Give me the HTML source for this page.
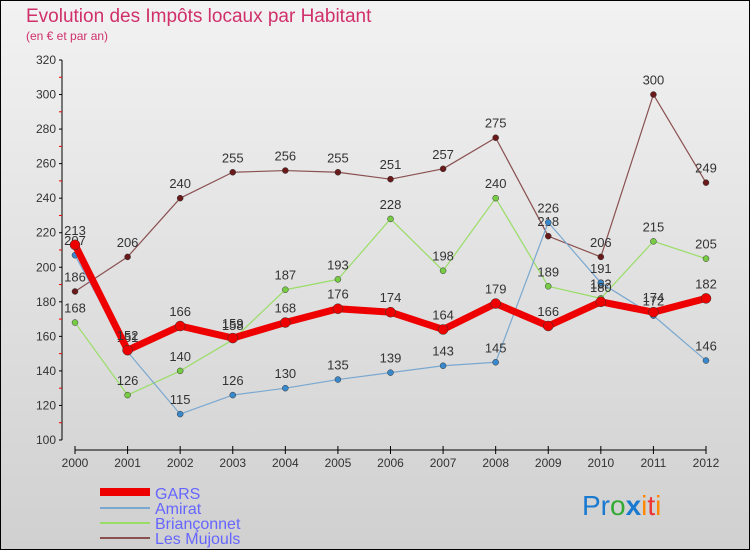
<!DOCTYPE html>
<html><head><meta charset="utf-8"><style>
body{margin:0;width:750px;height:550px;overflow:hidden;font-family:"Liberation Sans",sans-serif}
svg text{font-family:"Liberation Sans",sans-serif}
</style></head><body>
<svg id="c" width="750" height="550" xmlns="http://www.w3.org/2000/svg">
<defs><linearGradient id="bg" x1="0" y1="0" x2="0" y2="1"><stop offset="0" stop-color="#f2f2f2"/><stop offset="1" stop-color="#d0d0d0"/></linearGradient></defs>
<rect x="0.5" y="0.5" width="749" height="549" fill="url(#bg)" stroke="#000"/>
<text x="26" y="22" font-size="19" fill="#d0306a">Evolution des Impôts locaux par Habitant</text>
<text x="26" y="40" font-size="12" fill="#d0306a">(en € et par an)</text>
<g id="axes"></g><g id="series"></g>
<g>
<rect x="100" y="488" width="50" height="8" fill="#e00"/>
<text x="155" y="499" font-size="16" fill="#6666ff">GARS</text>
<line x1="100" y1="508" x2="150" y2="508" stroke="#7aa8d0" stroke-width="2"/>
<text x="155" y="514" font-size="16" fill="#6666ff">Amirat</text>
<line x1="100" y1="523" x2="150" y2="523" stroke="#99dd66" stroke-width="2"/>
<text x="155" y="529" font-size="16" fill="#6666ff">Briançonnet</text>
<line x1="100" y1="538" x2="150" y2="538" stroke="#8a5050" stroke-width="2"/>
<text x="155" y="544" font-size="16" fill="#6666ff">Les Mujouls</text>
</g>
<text x="582" y="515" font-size="28"><tspan fill="#1a7ad0">Pr</tspan><tspan fill="#3a3">o</tspan><tspan fill="#1a7ad0" font-weight="bold">x</tspan><tspan fill="#f80">i</tspan><tspan fill="#e33">t</tspan><tspan fill="#f80">i</tspan></text>
</svg>
<script>
const years=["2000","2001","2002","2003","2004","2005","2006","2007","2008","2009","2010","2011","2012"];
const yTicks=[100,120,140,160,180,200,220,240,260,280,300,320];
const gars=[213,152,166,159,168,176,174,164,179,166,180,174,182];
const amirat=[207,151,115,126,130,135,139,143,145,226,191,172,146];
const brianconnet=[168,126,140,158,187,193,228,198,240,189,182,215,205];
const mujouls=[186,206,240,255,256,255,251,257,275,218,206,300,249];
const NS="http://www.w3.org/2000/svg";
const X=i=>75+i*(706-75)/12, Y=v=>440-(v-100)*380/220;
function mk(t,a,p){const e=document.createElementNS(NS,t);for(const k in a)e.setAttribute(k,a[k]);p.appendChild(e);return e;}
const ax=document.getElementById('axes');
mk('line',{x1:62,y1:60,x2:62,y2:440,stroke:'#000'},ax);
mk('line',{x1:75,y1:450,x2:706,y2:450,stroke:'#000'},ax);
yTicks.forEach(v=>{const t=mk('text',{x:56,y:Y(v)+4,'font-size':12,'text-anchor':'end',fill:'#333'},ax);t.textContent=v;

mk('line',{x1:59,y1:Y(v),x2:62,y2:Y(v),stroke:'#000'},ax);
if(v<320) mk('line',{x1:59,y1:Y(v+10),x2:62,y2:Y(v+10),stroke:'#e00'},ax);});
years.forEach((y,i)=>{mk('line',{x1:X(i),y1:446,x2:X(i),y2:454,stroke:'#000'},ax);
const t=mk('text',{x:X(i),y:467,'font-size':12,'text-anchor':'middle',fill:'#333'},ax);t.textContent=y;
});
const sg=document.getElementById('series');
function draw(name,vals,col,w,r,dot){const g=mk('g',{},sg);

mk('polyline',{points:vals.map((v,i)=>X(i)+','+Y(v)).join(' '),fill:'none',stroke:col,'stroke-width':w,'stroke-linejoin':'round'},g);
vals.forEach((v,i)=>{const c=mk('circle',{cx:X(i),cy:Y(v),r:r,fill:dot,stroke:'#333','stroke-width':0.5},g);

const t=mk('text',{x:X(i),y:Y(v)-10,'font-size':13,'text-anchor':'middle',fill:'#333'},g);t.textContent=v;
});}
draw('les-mujouls',mujouls,'#8a5050',1.2,3,'#6a1a1a');
draw('brianconnet',brianconnet,'#99dd66',1.2,3,'#77cc44');
draw('amirat',amirat,'#7aa8d0',1.2,3,'#3a88cc');
draw('gars',gars,'#ee0000',7,5,'#ee0000');
</script>
</body></html>
